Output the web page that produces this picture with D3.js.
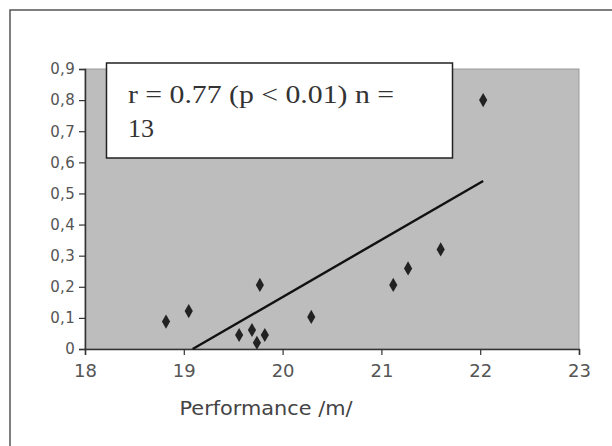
<!DOCTYPE html>
<html><head><meta charset="utf-8">
<script src="https://cdn.jsdelivr.net/npm/d3@7"></script>
<style>html,body{margin:0;padding:0;background:#fff;}svg{display:block;}</style>
</head><body>
<svg id="chart" width="612" height="446"></svg>
<script>
// Data
const perfX = [18.82, 19.05, 19.77, 19.56, 19.69, 19.82, 19.74, 20.29, 21.12, 21.27, 21.60, 22.03];
const valueY = [0.088, 0.122, 0.206, 0.045, 0.061, 0.045, 0.020, 0.103, 0.206, 0.259, 0.320, 0.800];
const trendX = [19.09, 22.03];
const trendY = [0.0, 0.54];
const xTicks = [18, 19, 20, 21, 22, 23];
const yTicks = [0, 0.1, 0.2, 0.3, 0.4, 0.5, 0.6, 0.7, 0.8, 0.9];
const yTickLabels = ["0", "0,1", "0,2", "0,3", "0,4", "0,5", "0,6", "0,7", "0,8", "0,9"];
const xTitle = "Performance /m/";
const noteLines = ["r = 0.77 (p < 0.01) n =", "13"];

const svg = d3.select("#chart");
const L = 85, T = 69, R = 579, B = 349;
const x = d3.scaleLinear().domain([18, 23]).range([L, R]);
const y = d3.scaleLinear().domain([0, 0.9]).range([B, T]);

// outer frame
svg.append("rect").attr("x", 10).attr("y", 10).attr("width", 700).attr("height", 500)
  .attr("fill", "#fff").attr("stroke", "#555").attr("stroke-width", 1.5);

// plot area
svg.append("rect").attr("x", L).attr("y", T).attr("width", R - L).attr("height", B - T)
  .attr("fill", "#bdbdbd").attr("stroke", "#9a9a9a").attr("stroke-width", 1);

// axes
const yAxis = d3.axisLeft(y).tickValues(yTicks).tickSize(6)
  .tickFormat((d, i) => yTickLabels[i]);
const gy = svg.append("g").attr("transform", `translate(${L},0)`).call(yAxis);
gy.select(".domain").attr("stroke", "#333").attr("stroke-width", 1.5);
gy.selectAll(".tick line").attr("stroke", "#333").attr("stroke-width", 1.2);
gy.selectAll(".tick text").attr("x", -10).attr("fill", "#555")
  .style("font-family", "'DejaVu Sans', sans-serif").style("font-size", "15px")
  .style("letter-spacing", "0.3px");

const xAxis = d3.axisBottom(x).tickValues(xTicks).tickSize(6).tickFormat(d3.format("d"));
const gx = svg.append("g").attr("transform", `translate(0,${B})`).call(xAxis);
gx.select(".domain").attr("stroke", "#333").attr("stroke-width", 1.5);
gx.selectAll(".tick line").attr("stroke", "#333").attr("stroke-width", 1.2);
gx.selectAll(".tick text").attr("y", 15).attr("fill", "#555")
  .style("font-family", "'DejaVu Sans', sans-serif").style("font-size", "18px");

// axis title
svg.append("text").attr("x", 266).attr("y", 415).attr("text-anchor", "middle")
  .attr("fill", "#444").style("font-family", "'DejaVu Sans', sans-serif")
  .style("font-size", "19px").attr("textLength", 173).attr("lengthAdjust", "spacingAndGlyphs")
  .text(xTitle);

// trend line
svg.append("line")
  .attr("x1", x(trendX[0])).attr("y1", y(trendY[0]))
  .attr("x2", x(trendX[1])).attr("y2", y(trendY[1]))
  .attr("stroke", "#111").attr("stroke-width", 2.4);

// points
const sym = d3.symbol().type(d3.symbolDiamond).size(58);
svg.append("g").selectAll("path").data(perfX).join("path")
  .attr("transform", (d, i) => `translate(${x(d)},${y(valueY[i])})`)
  .attr("d", sym).attr("fill", "#222");

// annotation box
svg.append("rect").attr("x", 106.5).attr("y", 63).attr("width", 346).attr("height", 95)
  .attr("fill", "#fff").attr("stroke", "#222").attr("stroke-width", 1.5);
const nt = svg.append("text").attr("fill", "#333")
  .style("font-family", "'Liberation Serif', 'Times New Roman', serif").style("font-size", "26px");
nt.append("tspan").attr("x", 128).attr("y", 103).attr("textLength", 266)
  .attr("lengthAdjust", "spacingAndGlyphs").text(noteLines[0]);
nt.append("tspan").attr("x", 128).attr("y", 137).text(noteLines[1]);
</script>
</body></html>
